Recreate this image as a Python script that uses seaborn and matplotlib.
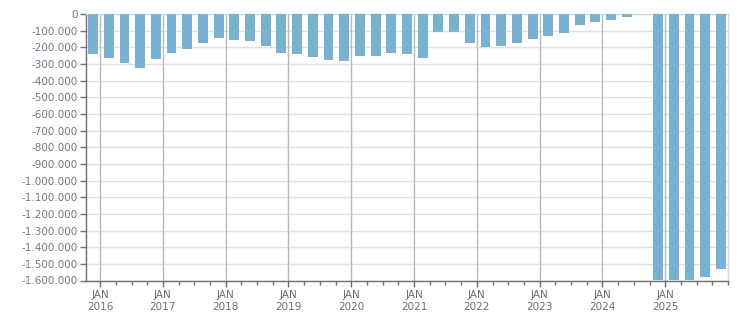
import numpy as np
import pandas as pd
import matplotlib
matplotlib.use("Agg")
import matplotlib.pyplot as plt
import seaborn as sns
from matplotlib.ticker import FuncFormatter, FixedLocator

# Quarterly periods (Q4 2015 .. Q4 2025)
quarters = [f"{y}Q{q}" for y in range(2015, 2026) for q in range(1, 5)][3:]
values = [
    -240000, -264000, -294000, -325000, -270000, -234000, -210000, -173000,
    -143000, -155000, -161000, -192000, -234000, -240000, -258000, -276000,
    -282000, -252000, -252000, -234000, -240000, -264000, -107000, -107000,
    -173000, -198000, -192000, -173000, -149000, -131000, -113000, -65000,
    -46000, -34000, -16000, np.nan, -1598000, -1598000, -1598000, -1580000,
    -1533000,
]
years = list(range(2016, 2026))
tick_labels = [f"JAN\n{y}" for y in years]
yticks = list(range(0, -1700000, -100000))

df = pd.DataFrame({"quarter": quarters, "value": values})

sns.set_theme(style="white")
plt.rcParams["font.family"] = ["DejaVu Sans"]

fig = plt.figure(figsize=(7.51, 3.13), dpi=100)
ax = fig.add_axes([86 / 751, 1 - 280.5 / 313, (728 - 86) / 751, (280.5 - 14) / 313])

sns.barplot(data=df, x="quarter", y="value", order=quarters, color="#79b1d3",
            saturation=1, width=0.63, errorbar=None, ax=ax, zorder=3,
            edgecolor="none")

ax.set_ylim(-1600000, 0)
ax.set_xlim(-0.45, len(quarters) - 1 + 0.45)

ax.set_yticks(yticks)
ax.yaxis.set_major_formatter(FuncFormatter(
    lambda v, p: "0" if v == 0 else f"{int(v):,}".replace(",", ".")))
ax.grid(axis="y", color="#e0e0e0", linewidth=1, zorder=0)

major = [(y - 2016) * 4 + 1 - 0.55 for y in years]
ax.set_xticks(major)
ax.set_xticklabels(tick_labels, linespacing=1.25)
ax.xaxis.set_minor_locator(FixedLocator([0.45 + k for k in range(len(quarters))]))
for xm in major:
    ax.axvline(xm, color="#b8b8b8", linewidth=1, zorder=1)

ax.set_xlabel("")
ax.set_ylabel("")

txt = "#75738a"
ax.tick_params(axis="y", which="major", length=4, width=1, color="#707070",
               labelsize=7.5, labelcolor=txt, pad=2, left=True)
ax.tick_params(axis="x", which="major", length=4, width=1, color="#707070",
               labelsize=7.5, labelcolor="#6f6a70", pad=3, bottom=True)
ax.tick_params(axis="x", which="minor", length=3, width=1, color="#707070",
               bottom=True)

for side in ["left", "bottom"]:
    ax.spines[side].set_color("#6e6e6e")
    ax.spines[side].set_linewidth(1)
for side in ["top", "right"]:
    ax.spines[side].set_color("#d8d8d8")
    ax.spines[side].set_linewidth(1)
    ax.spines[side].set_visible(True)

fig.savefig("out.png", dpi=100)
